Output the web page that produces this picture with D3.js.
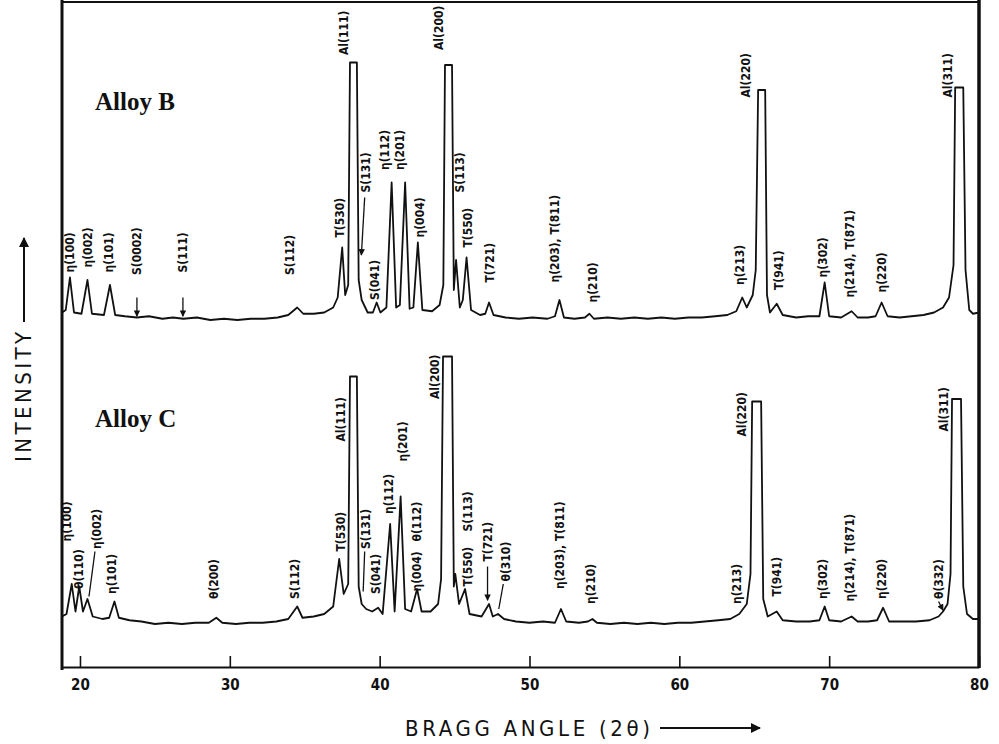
<!DOCTYPE html>
<html>
<head>
<meta charset="utf-8">
<script src="https://cdn.jsdelivr.net/npm/d3@7"></script>
<style>
  html, body { margin: 0; padding: 0; background: #fff; }
  svg { display: block; }
  .peak-label { font-family: "DejaVu Sans Condensed", "DejaVu Sans", sans-serif; font-size: 12px; font-weight: bold; fill: #111; }
</style>
</head>
<body>
<div id="chart"></div>
<script>
// diffraction traces, [2θ, relative intensity]
const alloyB = [
  [18.8, 3], [19.05, 4], [19.33, 17], [19.6, 3], [20.1, 2.5], [20.5, 16], [20.8, 2.5], [21.6, 2], [22.0, 14], [22.35, 2],
  [23.0, 1.5], [23.8, 1], [24.6, 1.5], [25.5, 0.5], [26.2, 1], [26.9, 0.5], [27.8, 1], [28.7, 0], [29.6, 0.5], [30.5, 0],
  [31.4, 0.5], [32.3, 0.5], [33.2, 1], [33.9, 2], [34.5, 5], [34.9, 2.5], [35.6, 2.5], [36.3, 3], [36.9, 5], [37.2, 9],
  [37.5, 29], [37.7, 10], [37.9, 14], [38.02, 103], [38.48, 103], [38.6, 16], [38.8, 8], [39.2, 3], [39.55, 3], [39.8, 7],
  [40.05, 3], [40.45, 5], [40.8, 55], [41.1, 5], [41.35, 6], [41.7, 55], [42.0, 4.5], [42.25, 5], [42.55, 31], [42.85, 4],
  [43.5, 3.5], [44.0, 6], [44.25, 14], [44.36, 102], [44.83, 102], [44.95, 12], [45.1, 24], [45.35, 5], [45.55, 8], [45.8, 25],
  [46.1, 4], [46.7, 2], [47.05, 2.5], [47.3, 7], [47.6, 2], [48.4, 1], [49.3, 0.5], [50.2, 1], [51.2, 0.5], [51.7, 1.5],
  [52.0, 8], [52.3, 1], [53.0, 0.5], [53.7, 1], [54.0, 2.5], [54.3, 0.5], [55.2, 1], [56.1, 0.5], [57.0, 1], [57.9, 0.5],
  [58.8, 1], [59.7, 0.5], [60.6, 1], [61.5, 1], [62.4, 1.5], [63.2, 2], [63.8, 3.5], [64.2, 9], [64.5, 5], [64.9, 10],
  [65.1, 20], [65.26, 92], [65.73, 92], [65.85, 10], [66.05, 3], [66.5, 6.5], [66.9, 2], [67.8, 1], [68.6, 1.5], [69.35, 1.5],
  [69.7, 15], [70.0, 1.5], [70.8, 1], [71.5, 3.5], [71.9, 1], [72.6, 1], [73.1, 1.5], [73.5, 7], [73.9, 1.5], [74.7, 1],
  [75.5, 1.5], [76.3, 2], [77.0, 3], [77.6, 5], [78.0, 9], [78.3, 22], [78.41, 93], [78.95, 93], [79.1, 20], [79.35, 4],
  [79.6, 2.5], [80, 3]
];

const alloyC = [
  [18.8, 3], [19.1, 4], [19.45, 16], [19.7, 5], [19.95, 15], [20.2, 5], [20.5, 10], [20.85, 3], [21.5, 2], [21.95, 2.5],
  [22.3, 9], [22.6, 2.5], [23.3, 1.5], [24.1, 1], [25.0, 0], [25.9, 0.5], [26.8, 0], [27.7, 0.5], [28.6, 0.5], [29.1, 2.5],
  [29.5, 0.5], [30.4, 0], [31.3, 0.5], [32.2, 0.5], [33.1, 1], [33.9, 2], [34.5, 7], [34.85, 2.5], [35.6, 3], [36.3, 4],
  [36.9, 7], [37.3, 26], [37.6, 12], [37.9, 16], [38.02, 99], [38.48, 99], [38.6, 15], [38.8, 8], [39.1, 6], [39.5, 5],
  [39.9, 6.5], [40.2, 4], [40.7, 40], [41.0, 5], [41.4, 51], [41.7, 6], [42.1, 5], [42.5, 14], [42.8, 5], [43.4, 5],
  [43.9, 8], [44.1, 18], [44.23, 107], [44.83, 107], [44.95, 15], [45.05, 20], [45.3, 8], [45.7, 14], [46.0, 4], [46.8, 3],
  [47.3, 8], [47.55, 3], [47.9, 4], [48.3, 2], [49.1, 1], [50.0, 0.5], [50.9, 1], [51.7, 0.5], [52.1, 6], [52.45, 1],
  [53.3, 0.5], [53.9, 1], [54.2, 2], [54.5, 0.5], [55.4, 0], [56.3, 0.5], [57.2, 0], [58.1, 0.5], [59.0, 0], [59.9, 0.5],
  [60.8, 0.5], [61.7, 1], [62.6, 1.5], [63.4, 2], [64.0, 4], [64.5, 8], [64.75, 20], [64.86, 89], [65.46, 89], [65.6, 10],
  [65.9, 3], [66.5, 5], [66.9, 1.5], [67.8, 1], [68.7, 1], [69.35, 1.5], [69.7, 7], [70.0, 1.5], [70.8, 1], [71.5, 3],
  [71.9, 1], [72.6, 1], [73.2, 1.5], [73.6, 6.5], [74.0, 1], [74.9, 1], [75.8, 1], [76.7, 1.5], [77.3, 3], [77.6, 5],
  [77.9, 8], [78.1, 20], [78.2, 90], [78.8, 90], [78.95, 15], [79.2, 4], [79.6, 2], [80, 2]
];

// peak labels: [text, 2θ, intensity at the foot of the label]
const labelsB = [
  ["η(100)", 19.33, 19], ["η(002)", 20.53, 21], ["η(101)", 21.93, 19], ["S(0002)", 23.8, 18], ["S(111)", 26.87, 19],
  ["S(112)", 34.0, 18], ["T(530)", 37.33, 33], ["Al(111)", 37.6, 106], ["S(131)", 39.05, 51], ["S(041)", 39.67, 8],
  ["η(112)", 40.36, 60], ["η(201)", 41.36, 60], ["η(004)", 42.7, 33], ["Al(200)", 43.95, 108], ["S(113)", 45.36, 51],
  ["T(550)", 45.9, 29], ["T(721)", 47.36, 15], ["η(203), T(811)", 51.7, 15], ["η(210)", 54.2, 7], ["η(213)", 64.06, 14],
  ["Al(220)", 64.4, 89], ["T(941)", 66.6, 12], ["η(302)", 69.6, 17], ["η(214), T(871)", 71.4, 9], ["η(220)", 73.5, 11],
  ["Al(311)", 77.9, 89]
];

const labelsC = [
  ["η(100)", 19.13, 33], ["θ(110)", 19.93, 14], ["η(002)", 21.1, 30], ["η(101)", 22.13, 12], ["θ(200)", 28.93, 10],
  ["S(112)", 34.33, 10], ["T(530)", 37.4, 29], ["Al(111)", 37.4, 73], ["S(131)", 39.1, 30], ["S(041)", 39.73, 12],
  ["η(112)", 40.6, 44], ["η(201)", 41.56, 65], ["θ(112)", 42.5, 33], ["η(004)", 42.45, 13], ["Al(200)", 43.7, 90],
  ["S(113)", 45.85, 37], ["T(550)", 45.85, 15], ["T(721)", 47.2, 25], ["θ(310)", 48.4, 17], ["η(203), T(811)", 52.0, 14],
  ["η(210)", 54.05, 8], ["η(213)", 63.85, 8], ["Al(220)", 64.15, 75], ["T(941)", 66.5, 11], ["η(302)", 69.6, 10],
  ["η(214), T(871)", 71.4, 9], ["η(220)", 73.5, 10], ["θ(332)", 77.3, 10], ["Al(311)", 77.65, 77]
];

// leader lines and arrows: [2θ from, I from, 2θ to, I to, arrowhead]
const leadersB = [
  [23.8, 9, 23.8, 1.5, 1], [26.87, 9, 26.87, 1.5, 1], [39.0, 49, 38.78, 26, 1]
];
const leadersC = [
  [21.0, 29, 20.6, 11, 0], [39.0, 29, 38.9, 13, 0], [47.2, 23, 47.2, 9.5, 1], [48.25, 16, 47.95, 6, 0], [77.3, 9, 77.6, 5.5, 1]
];

const tickValues = [20, 30, 40, 50, 60, 70, 80];

const width = 999, height = 744;

const svg = d3.select('#chart').append('svg')
  .attr('width', width)
  .attr('height', height);

svg.append('defs').append('marker')
  .attr('id', 'head')
  .attr('viewBox', '0 0 10 10')
  .attr('refX', 9).attr('refY', 5)
  .attr('markerWidth', 5).attr('markerHeight', 5)
  .attr('orient', 'auto')
  .append('path')
  .attr('d', 'M0,0 L10,5 L0,10 z')
  .attr('fill', '#111');

const x = d3.scaleLinear().domain([18.8, 80]).range([62, 979]);
const yB = d3.scaleLinear().domain([0, 100]).range([320, 70]);
const yC = d3.scaleLinear().domain([0, 100]).range([624, 374]);

// one panel per alloy
const drawPanel = (trace, labels, leaders, y, name, nameLevel) => {
  const line = d3.line()
    .x(d => x(d[0]))
    .y(d => y(d[1]));

  svg.append('path')
    .datum(trace)
    .attr('d', line)
    .attr('fill', 'none')
    .attr('stroke', '#111')
    .attr('stroke-width', 1.8)
    .attr('stroke-linejoin', 'round');

  svg.selectAll(null)
    .data(labels)
    .enter()
    .append('text')
    .attr('class', 'peak-label')
    .attr('transform', d => `translate(${x(d[1])},${y(d[2])}) rotate(-90)`)
    .attr('dy', '0.36em')
    .text(d => d[0]);

  svg.selectAll(null)
    .data(leaders)
    .enter()
    .append('line')
    .attr('x1', d => x(d[0]))
    .attr('y1', d => y(d[1]))
    .attr('x2', d => x(d[2]))
    .attr('y2', d => y(d[3]))
    .attr('stroke', '#111')
    .attr('stroke-width', 1.3)
    .attr('marker-end', d => d[4] ? 'url(#head)' : null);

  svg.append('text')
    .attr('x', 95)
    .attr('y', y(nameLevel))
    .attr('font-family', '"Liberation Serif", "DejaVu Serif", serif')
    .attr('font-weight', 'bold')
    .attr('font-size', '25px')
    .attr('fill', '#111')
    .text(name);
};

drawPanel(alloyB, labelsB, leadersB, yB, 'Alloy B', 84);
drawPanel(alloyC, labelsC, leadersC, yC, 'Alloy C', 79);

// frame
svg.append('line').attr('x1', 62).attr('x2', 62).attr('y1', 0).attr('y2', 670)
  .attr('stroke', '#111').attr('stroke-width', 3);
svg.append('line').attr('x1', 979).attr('x2', 979).attr('y1', 0).attr('y2', 668)
  .attr('stroke', '#111').attr('stroke-width', 3.5);
svg.append('line').attr('x1', 62).attr('x2', 979).attr('y1', 2).attr('y2', 2)
  .attr('stroke', '#111').attr('stroke-width', 2);

// bottom axis
const axis = svg.append('g')
  .attr('transform', 'translate(0,667)')
  .call(d3.axisBottom(x).tickValues(tickValues).tickSize(-11).tickSizeOuter(0).tickPadding(12));
axis.select('.domain').attr('stroke', '#111').attr('stroke-width', 2.2);
axis.selectAll('.tick line').attr('stroke', '#111').attr('stroke-width', 1.6);
axis.selectAll('.tick text')
  .attr('font-family', '"DejaVu Sans Condensed", "DejaVu Sans", sans-serif')
  .attr('font-size', '15px')
  .attr('font-weight', 'bold')
  .attr('fill', '#111');

// axis titles
svg.append('text')
  .attr('x', 405).attr('y', 736)
  .attr('font-family', '"DejaVu Sans Condensed", "DejaVu Sans", sans-serif')
  .attr('font-size', '22px')
  .attr('textLength', 245)
  .attr('lengthAdjust', 'spacing')
  .attr('fill', '#111')
  .text('BRAGG ANGLE (2θ)');
svg.append('line').attr('x1', 660).attr('x2', 760).attr('y1', 728).attr('y2', 728)
  .attr('stroke', '#111').attr('stroke-width', 2).attr('marker-end', 'url(#head)');

svg.append('text')
  .attr('transform', 'translate(31,462) rotate(-90)')
  .attr('font-family', '"DejaVu Sans Condensed", "DejaVu Sans", sans-serif')
  .attr('font-size', '22px')
  .attr('textLength', 130)
  .attr('lengthAdjust', 'spacing')
  .attr('fill', '#111')
  .text('INTENSITY');
svg.append('line').attr('x1', 24).attr('x2', 24).attr('y1', 322).attr('y2', 238)
  .attr('stroke', '#111').attr('stroke-width', 2).attr('marker-end', 'url(#head)');
</script>
</body>
</html>
